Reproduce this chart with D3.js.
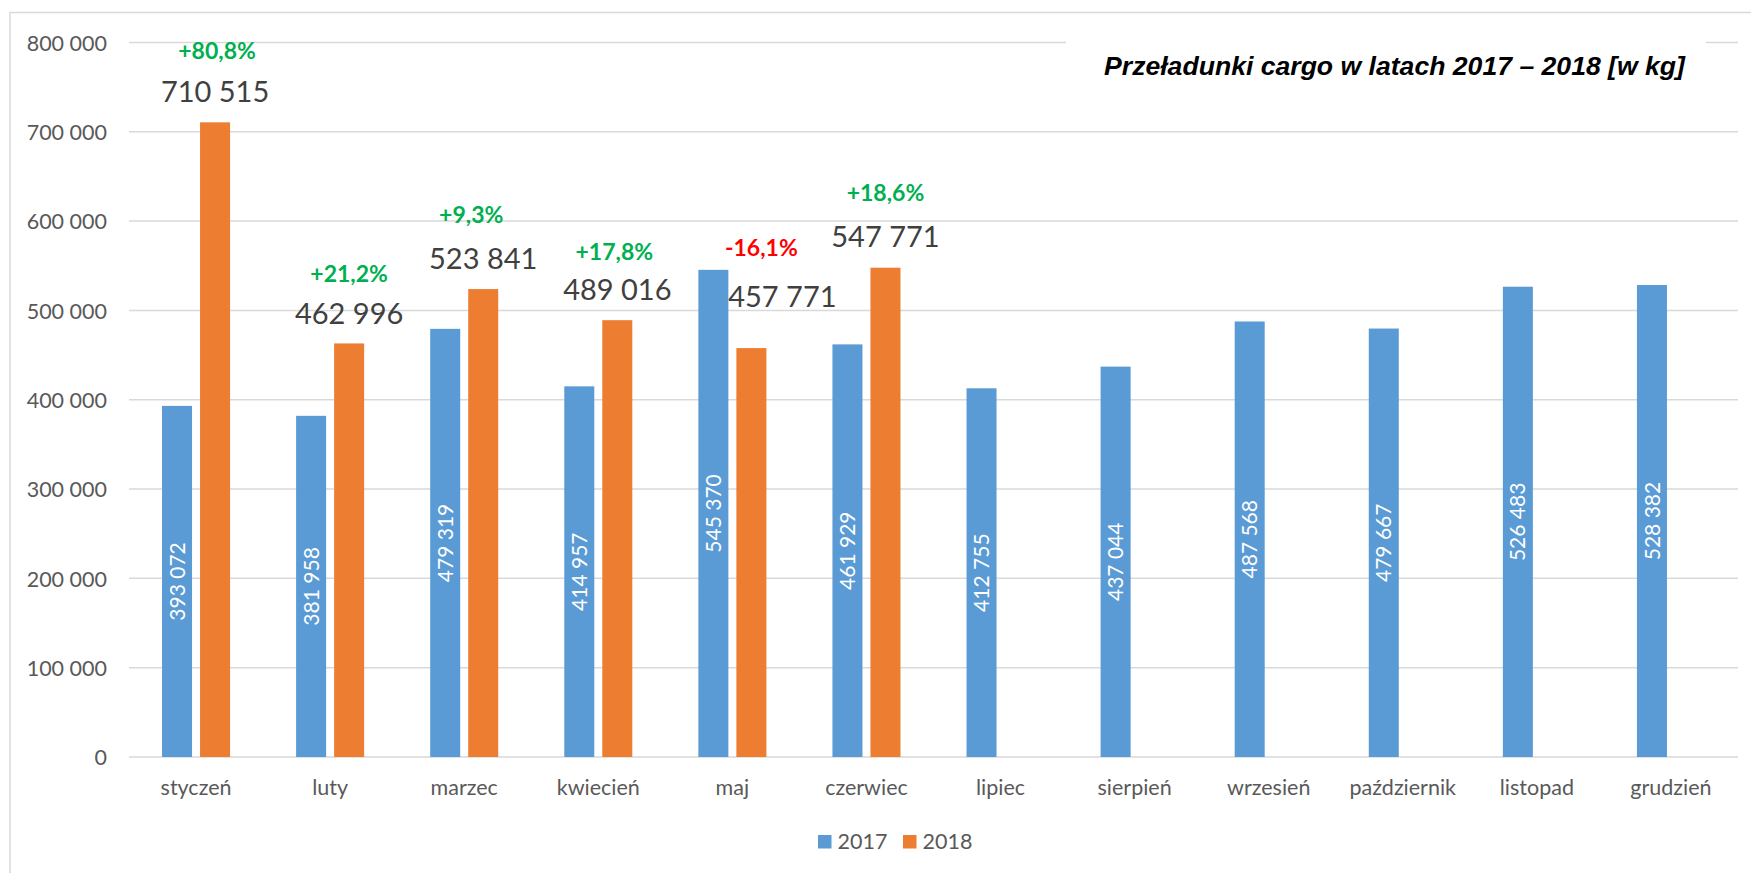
<!DOCTYPE html>
<html>
<head>
<meta charset="utf-8">
<script src="https://cdn.jsdelivr.net/npm/d3@7"></script>
<style>
  body { margin: 0; background: #fff; }
  svg text { font-family: Lato, "Open Sans", sans-serif; }
</style>
</head>
<body>
<div id="chart"></div>
<script>
// months on the x axis
const months = ["styczeń", "luty", "marzec", "kwiecień", "maj", "czerwiec",
  "lipiec", "sierpień", "wrzesień", "październik", "listopad", "grudzień"];
const seriesNames = ["2017", "2018"];
// cargo in kg
const values2017 = [393072, 381958, 479319, 414957, 545370, 461929,
  412755, 437044, 487568, 479667, 526483, 528382];
const values2018 = [710515, 462996, 523841, 489016, 457771, 547771];
const yTicks = [0, 100000, 200000, 300000, 400000, 500000, 600000, 700000, 800000];
const chartTitle = "Przeładunki cargo w latach 2017 – 2018 [w kg]";

// hand placed label nudges for the 2018 annotations: [valueDx, valueDy, pctDx, pctDy]
const labelNudge = [[0, 0, 2, 0], [0, 1, 0, 1], [0, 0, -12, -2], [0, 0, -3, 3.5], [31, -21, -21, -7], [0, 0, 0, -3]];

const colors = {"2017": "#5B9BD5", "2018": "#ED7D31"};

const width = 1751, height = 873;
const margin = {top: 42.4, right: 13, bottom: 116, left: 129};

const pl = d3.formatLocale({decimal: ",", thousands: " ", grouping: [3], currency: ["", ""], minus: "-"});
const fmtNum = pl.format(",d");
const fmtPct = pl.format("+.1%");

const svg = d3.select("#chart").append("svg")
  .attr("width", width)
  .attr("height", height);

// outer chart border
svg.append("rect")
  .attr("x", 10).attr("y", 12.5)
  .attr("width", width + 20).attr("height", height + 20)
  .attr("fill", "none")
  .attr("stroke", "#d9d9d9")
  .attr("stroke-width", 1.5);

const x0 = d3.scaleBand()
  .domain(months)
  .range([margin.left, width - margin.right])
  .paddingInner(0.4925)
  .paddingOuter(0.24625);

const x1 = d3.scaleBand()
  .domain(seriesNames)
  .range([0, x0.bandwidth()])
  .paddingInner(0.2105);

const y = d3.scaleLinear()
  .domain([0, 800000])
  .range([height - margin.bottom, margin.top]);

// gridlines
svg.append("g")
  .selectAll("line")
  .data(yTicks)
  .join("line")
  .attr("x1", margin.left)
  .attr("x2", width - margin.right)
  .attr("y1", d => y(d))
  .attr("y2", d => y(d))
  .attr("stroke", "#d9d9d9")
  .attr("stroke-width", 1.5);

// y axis labels
const yAxis = d3.axisLeft(y).tickValues(yTicks).tickFormat(fmtNum).tickSize(0).tickPadding(22);
svg.append("g")
  .attr("transform", `translate(${margin.left},0)`)
  .call(yAxis)
  .call(g => g.select(".domain").remove())
  .call(g => g.selectAll("text")
    .attr("fill", "#595959")
    .style("font-size", "21.5px")
    .attr("dy", "0.36em"));

// x axis labels
const xAxis = d3.axisBottom(x0).tickSize(0).tickPadding(23);
svg.append("g")
  .attr("transform", `translate(0,${y(0)})`)
  .call(xAxis)
  .call(g => g.select(".domain").remove())
  .call(g => g.selectAll("text")
    .attr("fill", "#595959")
    .style("font-size", "21.5px")
    .attr("dy", "0.72em"));

// bars
const rows = months.map((m, i) => ({
  month: m,
  values: [
    {key: "2017", value: values2017[i]},
    {key: "2018", value: values2018[i]}
  ].filter(d => d.value !== undefined)
}));

const groups = svg.append("g")
  .selectAll("g")
  .data(rows)
  .join("g")
  .attr("transform", d => `translate(${x0(d.month)},0)`);

groups.selectAll("rect")
  .data(d => d.values)
  .join("rect")
  .attr("x", d => x1(d.key))
  .attr("y", d => y(d.value))
  .attr("width", x1.bandwidth())
  .attr("height", d => y(0) - y(d.value))
  .attr("fill", d => colors[d.key]);

// 2017 labels, rotated inside the bars
groups.filter(d => d.values[0].key === "2017")
  .append("text")
  .attr("transform", d => {
    const v = d.values[0].value;
    const cx = x1("2017") + x1.bandwidth() / 2;
    const cy = (y(v) + y(0)) / 2;
    return `translate(${cx},${cy}) rotate(-90)`;
  })
  .attr("text-anchor", "middle")
  .attr("dy", "0.36em")
  .attr("fill", "#fff")
  .style("font-size", "21px")
  .text(d => fmtNum(d.values[0].value));

// 2018 value labels and change vs 2017
const fs18 = 29, fsPct = 23;
values2018.forEach((v, i) => {
  const n = labelNudge[i];
  const cx = x0(months[i]) + x1("2018") + x1.bandwidth() / 2 + n[0];
  const cy = y(v) - 31 + n[1];
  svg.append("text")
    .attr("x", cx)
    .attr("y", cy + fs18 * 0.36)
    .attr("text-anchor", "middle")
    .attr("fill", "#404040")
    .style("font-size", fs18 + "px")
    .text(fmtNum(v));

  const change = v / values2017[i] - 1;
  svg.append("text")
    .attr("x", cx + n[2])
    .attr("y", cy - 41 + n[3] + fsPct * 0.36)
    .attr("text-anchor", "middle")
    .attr("fill", change < 0 ? "#FF0000" : "#00B050")
    .style("font-size", fsPct + "px")
    .style("font-weight", "bold")
    .text(fmtPct(change));
});

// title box over the top gridline
svg.append("rect")
  .attr("x", 1066).attr("y", 30)
  .attr("width", 640).attr("height", 80)
  .attr("fill", "#fff");

svg.append("text")
  .attr("x", 1394.5)
  .attr("y", 75)
  .attr("text-anchor", "middle")
  .style("font-family", "'Liberation Sans', Arial, sans-serif")
  .style("font-size", "26.6px")
  .style("font-weight", "bold")
  .style("font-style", "italic")
  .attr("fill", "#000")
  .text(chartTitle);

// legend
const legend = svg.append("g").attr("transform", "translate(818,835)");
const legendItems = legend.selectAll("g")
  .data(seriesNames)
  .join("g")
  .attr("transform", (d, i) => `translate(${i * 85},0)`);
legendItems.append("rect")
  .attr("width", 13.5).attr("height", 13.5)
  .attr("fill", d => colors[d]);
legendItems.append("text")
  .attr("x", 19.5)
  .attr("y", 13.5)
  .attr("fill", "#595959")
  .style("font-size", "21.5px")
  .text(d => d);
</script>
</body>
</html>
